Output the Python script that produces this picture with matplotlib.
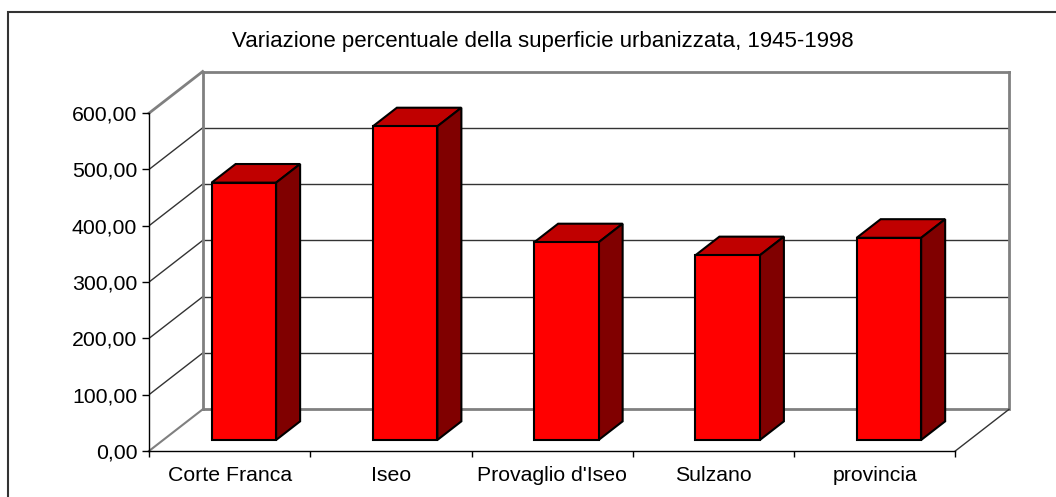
import matplotlib
matplotlib.use("Agg")
import matplotlib.pyplot as plt
from matplotlib.patches import Polygon, Rectangle

plt.rcParams['font.family'] = ['Liberation Sans', 'DejaVu Sans']

# data
categories = ["Corte Franca", "Iseo", "Provaglio d'Iseo", "Sulzano", "provincia"]
values = [457, 557, 351, 328, 359]
yticks = [0, 100, 200, 300, 400, 500, 600]
title = "Variazione percentuale della superficie urbanizzata, 1945-1998"

# oblique projection: full depth shifts x by DX categories and y by DY units
DX, DY = 0.333, 74.0
D0, BD = 0.265, 0.447   # bar front depth and bar depth
BW = 0.4                # bar width in categories
YMAX = 600
n = len(categories)

W, H = 1056, 497
fig = plt.figure(figsize=(W / 100, H / 100), dpi=100)
ax = fig.add_axes([149 / W, (H - 451) / H, (1009 - 149) / W, (451 - 71.5) / H])
ax.set_xlim(-0.5, n - 0.5 + DX)
ax.set_ylim(0, YMAX + DY)

wall = '#808080'
grid = '#333333'
x0, x1 = -0.5, n - 0.5

# back wall and its gridlines
for v in yticks[1:-1]:
    ax.plot([x0 + DX, x1 + DX], [v + DY, v + DY], color=grid, lw=1, zorder=1)
    ax.plot([x0, x0 + DX], [v, v + DY], color=grid, lw=1, zorder=1)
ax.plot([x0 + DX, x1 + DX], [YMAX + DY, YMAX + DY], color=wall, lw=2, zorder=1, clip_on=False)
ax.plot([x0, x0 + DX], [YMAX, YMAX + DY], color=wall, lw=2, zorder=1, clip_on=False)
ax.plot([x0 + DX, x0 + DX], [DY, YMAX + DY], color=wall, lw=2, zorder=1, clip_on=False)
ax.plot([x1 + DX, x1 + DX], [DY, YMAX + DY], color=wall, lw=2, zorder=1, clip_on=False)
# floor
ax.plot([x0 + DX, x1 + DX], [DY, DY], color=wall, lw=2, zorder=1)
ax.plot([x0, x0 + DX], [0, DY], color=wall, lw=1.5, zorder=1, clip_on=False)
ax.plot([x1, x1 + DX], [0, DY], color=grid, lw=1, zorder=1, clip_on=False)

# bars
xs = [i + D0 * DX for i in range(n)]
ax.bar(xs, values, width=BW, bottom=D0 * DY, color='#FF0000',
       edgecolor='black', lw=1.5, zorder=4)
for x, v in zip(xs, values):
    xl, xr = x - BW / 2, x + BW / 2
    yb, yt = D0 * DY, D0 * DY + v
    ddx, ddy = BD * DX, BD * DY
    ax.add_patch(Polygon([(xl, yt), (xr, yt), (xr + ddx, yt + ddy), (xl + ddx, yt + ddy)],
                         closed=True, facecolor='#C00000', edgecolor='black',
                         lw=1.5, zorder=3))
    ax.add_patch(Polygon([(xr, yb), (xr, yt), (xr + ddx, yt + ddy), (xr + ddx, yb + ddy)],
                         closed=True, facecolor='#800000', edgecolor='black',
                         lw=1.5, zorder=3))

# axes
for s in ['top', 'right']:
    ax.spines[s].set_visible(False)
ax.spines['left'].set_bounds(0, YMAX)
ax.spines['bottom'].set_bounds(x0, x1)
for s in ['left', 'bottom']:
    ax.spines[s].set_color('black')
    ax.spines[s].set_linewidth(1)
    ax.spines[s].set_zorder(5)
ax.set_yticks(yticks)
ax.set_yticklabels([f"{v:.2f}".replace('.', ',') for v in yticks])
ax.set_xticks(range(n))
ax.set_xticklabels(categories)
ax.set_xticks([i - 0.5 for i in range(n + 1)], minor=True)
ax.tick_params(axis='y', direction='out', length=5, width=1, pad=3.5, labelsize=15.3)
ax.tick_params(axis='x', which='major', length=0, pad=11, labelsize=15.3)
ax.tick_params(axis='x', which='minor', direction='out', length=4.5, width=1)
ax.patch.set_visible(False)

fig.text(543 / W, 1 - 41 / H, title, ha='center', va='center', fontsize=16)
fig.add_artist(Rectangle((8 / W, -0.1), 1.1, 1.1 - 11.7 / H,
                         transform=fig.transFigure, fill=False,
                         edgecolor='#333333', lw=1.5))

fig.savefig("out.png", dpi=100)
